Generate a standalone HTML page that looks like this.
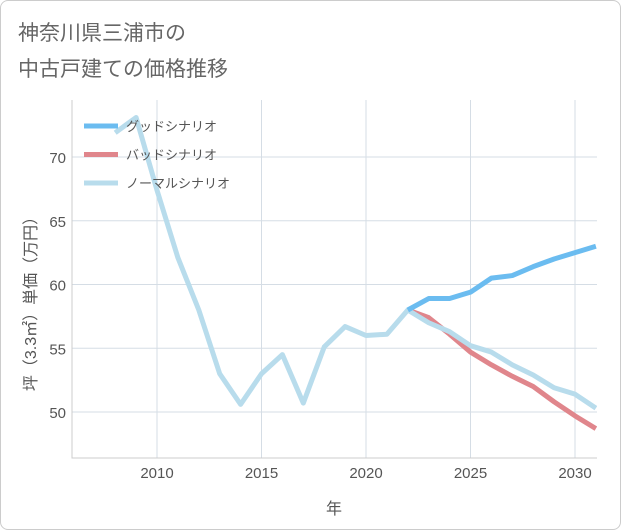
<!DOCTYPE html>
<html><head><meta charset="utf-8"><style>
body{margin:0;background:#fff;font-family:"Liberation Sans","Noto Sans CJK JP",sans-serif;}
#card{position:absolute;left:0;top:0;width:619px;height:528px;border:1px solid #ccc;border-radius:8px;background:#fff;}
</style></head><body>
<div id="card">
<svg id="chart" width="621" height="530" style="position:absolute;left:-1px;top:-1px">
<text x="18" y="40" font-size="21" fill="#666">神奈川県三浦市の</text>
<text x="18" y="76" font-size="21" fill="#666">中古戸建ての価格推移</text>
</svg></div>
<script>
const years=[2008,2009,2010,2011,2012,2013,2014,2015,2016,2017,2018,2019,2020,2021,2022,2023,2024,2025,2026,2027,2028,2029,2030,2031];
const normal=[71.9,73.1,67.4,62.1,58,53,50.6,53,54.5,50.7,55.1,56.7,56,56.1,58,57,56.3,55.2,54.7,53.7,52.9,51.9,51.4,50.3];
const goodYears=[2022,2023,2024,2025,2026,2027,2028,2029,2030,2031];
const good=[58,58.9,58.9,59.4,60.5,60.7,61.4,62,62.5,63];
const bad=[58,57.4,56.1,54.7,53.7,52.8,52,50.8,49.7,48.7];
const xTicks=[2010,2015,2020,2025,2030];
const yTicks=[50,55,60,65,70];
const legendLabels=["グッドシナリオ","バッドシナリオ","ノーマルシナリオ"];
const NS="http://www.w3.org/2000/svg";
const svg=document.getElementById('chart');
const L=72,R=597,T=100,B=458;
const x=v=>157+(v-2010)*20.9;
const y=v=>157+(70-v)*12.75;
function mk(t,a,p){const e=document.createElementNS(NS,t);for(const k in a)e.setAttribute(k,a[k]);(p||svg).appendChild(e);return e;}
xTicks.forEach(t=>{const l=mk('line',{x1:x(t),x2:x(t),y1:T,y2:B,stroke:'#d5dde5'});


const tx=mk('text',{x:x(t),y:B+20,'text-anchor':'middle','font-size':15,fill:'#555'});tx.textContent=t;

});
yTicks.forEach(t=>{const l=mk('line',{x1:L,x2:R,y1:y(t),y2:y(t),stroke:'#d5dde5'});


const tx=mk('text',{x:L-6,y:y(t)+6,'text-anchor':'end','font-size':15,fill:'#555'});tx.textContent=t;

});
const ax=mk('path',{d:`M${L} ${T}V${B}H${R}`,fill:'none',stroke:'#ccc'});


const xt=mk('text',{x:334,y:514,'text-anchor':'middle','font-size':16,fill:'#555'});xt.textContent='年';


const yt=mk('text',{x:0,y:0,'text-anchor':'middle','font-size':16,fill:'#555',transform:'translate(36,300) rotate(-90)'});yt.textContent='坪（3.3㎡）単価（万円）';


const clip=mk('clipPath',{id:'c'});mk('rect',{x:L,y:T,width:R-L,height:B-T},clip);
function line(xs,vs,col,name){const p=mk('polyline',{points:xs.map((v,i)=>x(v)+','+y(vs[i])).join(' '),fill:'none',stroke:col,'stroke-width':5,'stroke-linejoin':'round','clip-path':'url(#c)'});

}
line(goodYears,bad,'#e0868c','bad-scenario-line');
line(years,normal,'#b8dcec','normal-scenario-line');
line(goodYears,good,'#6bbcf0','good-scenario-line');
const cols=['#6bbcf0','#e0868c','#b8dcec'];
legendLabels.forEach((s,i)=>{const g=mk('g',{});


mk('line',{x1:84,x2:118,y1:126+i*28.5,y2:126+i*28.5,stroke:cols[i],'stroke-width':5},g);
const t=mk('text',{x:126,y:131+i*28.5,'font-size':13,fill:'#555'},g);t.textContent=s;});
</script></body></html>
